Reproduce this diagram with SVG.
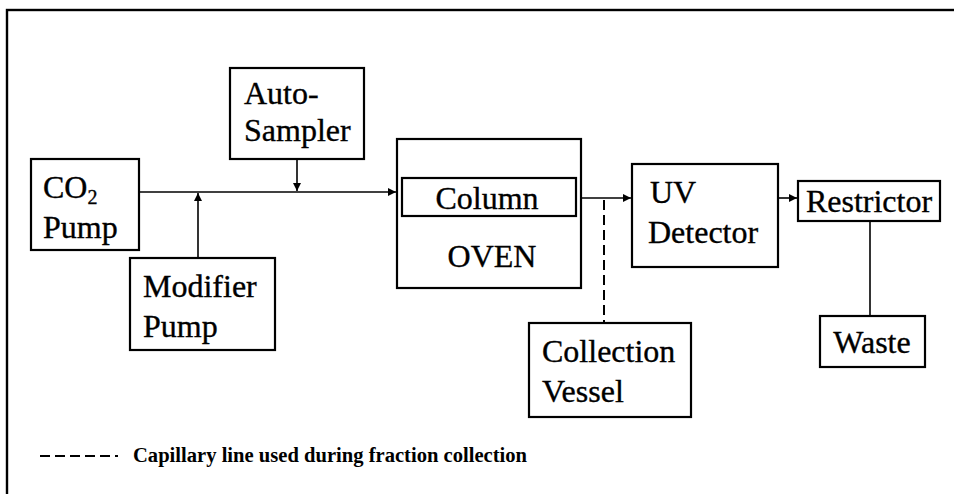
<svg xmlns="http://www.w3.org/2000/svg" width="954" height="494" viewBox="0 0 954 494">
  <style>
    .box { fill: #fff; stroke: #000; stroke-width: 2.2; }
    .lbl { font-family: "Liberation Serif", "Times New Roman", serif; font-size: 32px; fill: #000; stroke: #000; stroke-width: 0.35; }
    .line { stroke: #000; stroke-width: 1.6; fill: none; }
    .dash { stroke: #000; stroke-width: 2; fill: none; stroke-dasharray: 10 5; }
    .legend { font-family: "Liberation Serif", "Times New Roman", serif; font-size: 20px; font-weight: bold; fill: #000; }
  </style>
  <defs>
    <marker id="arrow" viewBox="0 0 10 10" refX="10" refY="5" markerWidth="8" markerHeight="8" markerUnits="userSpaceOnUse" orient="auto">
      <path d="M0,0 L10,5 L0,10 Z" fill="#000"/>
    </marker>
  </defs>

  <rect width="954" height="494" fill="#fff"/>
  <!-- outer frame, running off the right and bottom edges -->
  <rect x="7" y="10" width="1000" height="600" fill="none" stroke="#000" stroke-width="2.4"/>

  <g id="connectors">
    <line class="line" x1="139" y1="192" x2="396" y2="192" marker-end="url(#arrow)"/>
    <line class="line" x1="198" y1="258" x2="198" y2="193" marker-end="url(#arrow)"/>
    <line class="line" x1="297" y1="159" x2="297" y2="191" marker-end="url(#arrow)"/>
    <line class="line" x1="581" y1="198" x2="631" y2="198" marker-end="url(#arrow)"/>
    <line class="line" x1="778" y1="198" x2="797" y2="198" marker-end="url(#arrow)"/>
    <line class="line" x1="870" y1="221" x2="870" y2="316"/>
    <line class="dash" x1="604" y1="200" x2="604" y2="323"/>
  </g>

  <g id="co2-pump">
    <rect class="box" x="31" y="159" width="108" height="91"/>
    <text class="lbl" x="43" y="198">CO<tspan font-size="20" dy="6">2</tspan></text>
    <text class="lbl" x="43" y="238">Pump</text>
  </g>

  <g id="auto-sampler">
    <rect class="box" x="230" y="68" width="134" height="91"/>
    <text class="lbl" x="244" y="104">Auto-</text>
    <text class="lbl" x="244" y="141">Sampler</text>
  </g>

  <g id="modifier-pump">
    <rect class="box" x="130" y="258" width="145" height="92"/>
    <text class="lbl" x="143" y="297">Modifier</text>
    <text class="lbl" x="143" y="337">Pump</text>
  </g>

  <g id="oven">
    <rect class="box" x="397" y="139" width="184" height="149"/>
    <text class="lbl" x="492" y="267" text-anchor="middle">OVEN</text>
  </g>

  <g id="column">
    <rect class="box" x="402" y="178" width="174" height="38"/>
    <text class="lbl" x="487" y="209" text-anchor="middle">Column</text>
  </g>

  <g id="uv-detector">
    <rect class="box" x="632" y="164" width="146" height="103"/>
    <text class="lbl" x="650" y="203">UV</text>
    <text class="lbl" x="648" y="243">Detector</text>
  </g>

  <g id="restrictor">
    <rect class="box" x="798" y="181" width="142" height="40"/>
    <text class="lbl" x="869" y="212" text-anchor="middle">Restrictor</text>
  </g>

  <g id="collection-vessel">
    <rect class="box" x="529" y="323" width="162" height="94"/>
    <text class="lbl" x="542" y="362">Collection</text>
    <text class="lbl" x="542" y="402">Vessel</text>
  </g>

  <g id="waste">
    <rect class="box" x="820" y="316" width="105" height="51"/>
    <text class="lbl" x="872" y="353" text-anchor="middle">Waste</text>
  </g>

  <g id="legend">
    <line class="dash" x1="40" y1="456" x2="118" y2="456" stroke-dasharray="10 7" stroke-width="1.8"/>
    <text class="legend" x="133" y="462" textLength="394" lengthAdjust="spacingAndGlyphs">Capillary line used during fraction collection</text>
  </g>
</svg>
